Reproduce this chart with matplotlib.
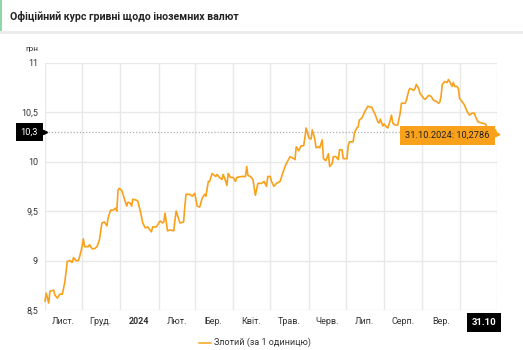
import numpy as np
import pandas as pd
import matplotlib
matplotlib.use("Agg")
import matplotlib.pyplot as plt
from matplotlib.patches import Rectangle
from matplotlib.lines import Line2D

plt.rcParams['font.family'] = ['Roboto', 'DejaVu Sans']

# курс злотого, дні від 01.11.2023
start = pd.Timestamp('2023-11-01')
days = [0, 1, 3, 4, 7, 8, 10, 12, 14, 15, 16, 18, 20, 22, 23, 25, 27, 28, 30, 31,
        32, 35, 36, 38, 40, 42, 44, 46, 48, 50, 51, 53, 55, 57, 58, 59, 60, 62, 64, 66,
        67, 69, 70, 71, 74, 75, 77, 79, 81, 83, 86, 87, 90, 93, 95, 96, 97, 99, 101, 104,
        105, 106, 108, 109, 112, 113, 114, 117, 119, 121, 123, 125, 127, 129, 130, 132, 133, 135, 138, 139,
        141, 143, 144, 145, 147, 148, 150, 152, 154, 155, 159, 162, 163, 164, 166, 168, 170, 172, 175, 177,
        179, 180, 182, 183, 185, 187, 190, 192, 194, 195, 198, 201, 202, 203, 205, 207, 209, 210, 211, 213,
        214, 215, 216, 218, 219, 221, 222, 224, 225, 227, 229, 230, 232, 233, 235, 237, 238, 240, 241, 244,
        245, 246, 249, 250, 252, 253, 254, 256, 259, 261, 263, 264, 267, 269, 270, 271, 273, 274, 276, 277,
        279, 280, 281, 283, 285, 287, 288, 291, 292, 294, 295, 298, 299, 300, 302, 303, 306, 307, 308, 310,
        312, 314, 316, 318, 319, 320, 321, 323, 325, 326, 327, 329, 330, 331, 333, 334, 335, 338, 339, 341,
        343, 345, 347, 348, 350, 353, 356, 357, 360, 364, 365]
rate = [8.59, 8.67, 8.57, 8.69, 8.70, 8.65, 8.62, 8.66, 8.66, 8.72, 8.78, 8.99, 9.00, 8.98, 9.03, 9.00, 9.00, 9.04, 9.14, 9.22,
        9.14, 9.14, 9.16, 9.12, 9.12, 9.14, 9.21, 9.38, 9.39, 9.35, 9.43, 9.51, 9.51, 9.53, 9.50, 9.71, 9.73, 9.71, 9.63, 9.55,
        9.59, 9.58, 9.55, 9.62, 9.61, 9.60, 9.50, 9.38, 9.33, 9.34, 9.29, 9.34, 9.34, 9.40, 9.38, 9.39, 9.48, 9.30, 9.31, 9.30,
        9.41, 9.50, 9.42, 9.38, 9.39, 9.55, 9.67, 9.67, 9.65, 9.68, 9.55, 9.54, 9.63, 9.67, 9.65, 9.80, 9.80, 9.88, 9.85, 9.87,
        9.84, 9.82, 9.87, 9.84, 9.76, 9.88, 9.84, 9.84, 9.80, 9.84, 9.85, 9.85, 9.95, 9.86, 9.85, 9.82, 9.66, 9.78, 9.78, 9.80,
        9.75, 9.85, 9.85, 9.80, 9.75, 9.78, 9.80, 9.88, 9.95, 9.98, 10.05, 10.03, 10.02, 10.15, 10.11, 10.16, 10.16, 10.24, 10.34, 10.25,
        10.23, 10.23, 10.32, 10.23, 10.14, 10.15, 10.14, 10.22, 10.03, 10.01, 10.08, 9.95, 9.98, 10.05, 10.05, 10.02, 10.12, 10.12, 10.03, 10.03,
        10.16, 10.20, 10.20, 10.29, 10.34, 10.35, 10.42, 10.44, 10.52, 10.56, 10.55, 10.55, 10.47, 10.40, 10.39, 10.43, 10.36, 10.38, 10.35, 10.34,
        10.42, 10.47, 10.39, 10.37, 10.37, 10.49, 10.59, 10.59, 10.62, 10.72, 10.74, 10.72, 10.74, 10.78, 10.74, 10.69, 10.64, 10.63, 10.64, 10.67,
        10.66, 10.62, 10.61, 10.59, 10.60, 10.66, 10.78, 10.81, 10.80, 10.83, 10.81, 10.76, 10.80, 10.76, 10.76, 10.74, 10.64, 10.59, 10.57, 10.51,
        10.47, 10.49, 10.49, 10.45, 10.40, 10.39, 10.38, 10.35, 10.34, 10.32, 10.2786]

month_labels = ['Лист.', 'Груд.', '2024', 'Лют.', 'Бер.', 'Квіт.', 'Трав.',
                'Черв.', 'Лип.', 'Серп.', 'Вер.']
yticks = [8.5, 9, 9.5, 10, 10.5, 11]
ytick_labels = ['8,5', '9', '9,5', '10', '10,5', '11']
cursor_y = 10.3

title = 'Офіційний курс гривні щодо іноземних валют'
series_name = 'Злотий (за 1 одиницю)'

dates = start + pd.to_timedelta(days, unit='D')
last_date = dates[-1]
last_val = rate[-1]

ORANGE = '#f9a11b'
GRID = '#e8e8e8'
TXT = '#333333'

fig = plt.figure(figsize=(5.23, 3.5), dpi=100)
fig.patch.set_facecolor('white')

# шапка
fig.patches.append(Rectangle((0, 1 - 31 / 350), 2 / 523, 31 / 350, transform=fig.transFigure,
                             facecolor='#8fd6a9', edgecolor='none', zorder=1))
fig.patches.append(Rectangle((0, 1 - 34 / 350), 1, 3 / 350, transform=fig.transFigure,
                             facecolor='#ececec', edgecolor='none', zorder=1))
fig.text(10 / 523, 1 - 16 / 350, title, fontsize=7.6, fontweight='bold',
         color='#222222', va='center', ha='left')

ax = fig.add_axes([45 / 523, 1 - 310 / 350, (496.7 - 45) / 523, (310 - 62.7) / 350])
ax.set_facecolor('white')
for s in ax.spines.values():
    s.set_visible(False)

ax.set_xlim(start, start + pd.Timedelta(days=365))
ax.set_ylim(8.5, 11)

# сітка
month_starts = pd.date_range('2023-11-01', '2024-10-01', freq='MS')
for m in month_starts:
    ax.axvline(m, color=GRID, lw=1, zorder=1)
for v in yticks:
    ax.axhline(v, color=GRID, lw=1, zorder=1)

ax.set_yticks(yticks)
ax.set_yticklabels(ytick_labels, fontsize=6.5, color=TXT)
ax.tick_params(axis='y', length=0, pad=5)

mids = month_starts[:-1] + pd.Timedelta(days=15)
ax.set_xticks(mids)
ax.set_xticklabels(month_labels, fontsize=6.5, color=TXT)
ax.get_xticklabels()[2].set_fontweight('bold')
ax.tick_params(axis='x', length=0, pad=5)

ax.text(-20 / 451.7, 1.055, 'грн', transform=ax.transAxes, fontsize=6, color=TXT,
        ha='left', va='center')

# лінія курсу
ax.plot(dates, rate, color=ORANGE, lw=1.2, zorder=3, clip_on=False)

# курсор
ax.axhline(cursor_y, color='#b0b0b0', lw=0.9, ls=(0, (1, 1.5)), zorder=2)
ax.axvline(last_date, color='#b0b0b0', lw=0.9, ls=(0, (1, 1.5)), zorder=2)

ax.annotate('10,3', xy=(0, cursor_y), xycoords=('axes fraction', 'data'),
            xytext=(-5, 0), textcoords='offset points', ha='right', va='center',
            fontsize=6.7, color='white',
            bbox=dict(boxstyle='square,pad=0.5', fc='black', ec='none'))
ax.plot([0], [cursor_y], marker='>', ms=3, color='black', transform=ax.get_yaxis_transform(),
        clip_on=False, zorder=5)

# підказка з останнім значенням
ax.annotate('31.10.2024: 10,2786', xy=(last_date, last_val),
            xytext=(-5, -1), textcoords='offset points', ha='right', va='center',
            fontsize=6.7, color='#222222', zorder=6,
            bbox=dict(boxstyle='square,pad=0.55', fc=ORANGE, ec='none'))
ax.plot([last_date], [last_val], marker='>', ms=3.5, color=ORANGE, zorder=6,
        clip_on=False, linestyle='none')

ax.annotate('31.10', xy=(last_date, 0), xycoords=('data', 'axes fraction'),
            xytext=(0, -9), textcoords='offset points', ha='right', va='center',
            fontsize=6.8, color='white', fontweight='bold',
            bbox=dict(boxstyle='square,pad=0.5', fc='black', ec='none'))

# легенда
fig.add_artist(Line2D([199 / 523, 211 / 523], [1 - 342.5 / 350] * 2, color=ORANGE, lw=1.1))
fig.text(214 / 523, 1 - 342.5 / 350, series_name, fontsize=6.5, color=TXT, va='center', ha='left')

fig.savefig('out.png', dpi=100)
